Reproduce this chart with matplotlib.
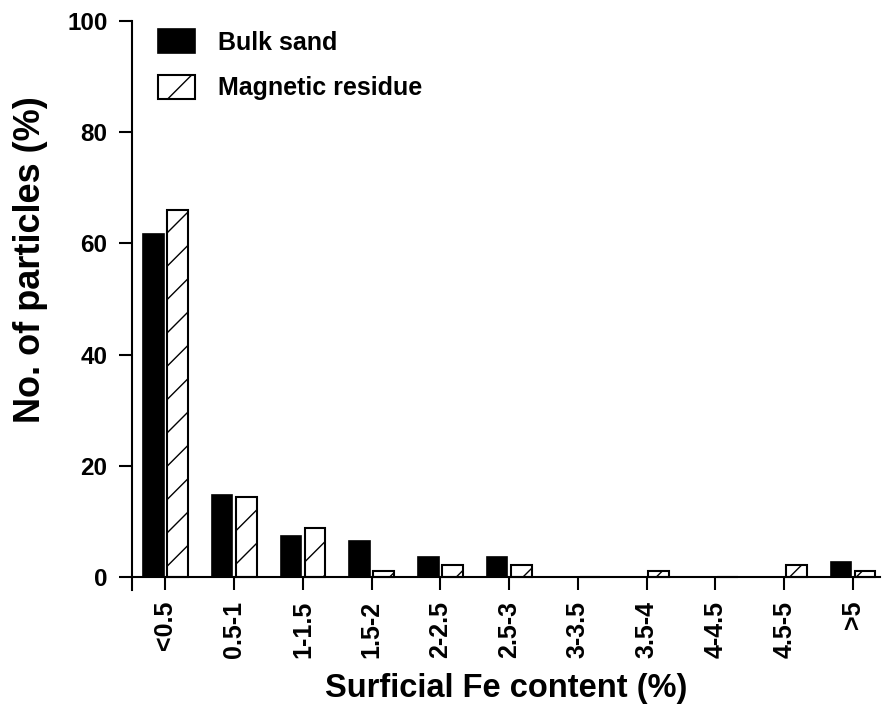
import matplotlib
matplotlib.use("Agg")
import matplotlib.pyplot as plt
import numpy as np

categories = ["<0.5", "0.5-1", "1-1.5", "1.5-2", "2-2.5", "2.5-3",
              "3-3.5", "3.5-4", "4-4.5", "4.5-5", ">5"]
bulk_sand = [61.6, 14.8, 7.4, 6.5, 3.7, 3.7, 0, 0, 0, 0, 2.8]
magnetic_residue = [66.0, 14.4, 8.9, 1.1, 2.2, 2.2, 0, 1.1, 0, 2.2, 1.1]

plt.rcParams["font.family"] = ["Liberation Sans", "DejaVu Sans"]
plt.rcParams["font.weight"] = "bold"
plt.rcParams["hatch.linewidth"] = 1.0

fig = plt.figure(figsize=(8.84, 7.17), dpi=100)
ax = fig.add_axes([0.149, 0.177, 0.847, 0.794])

x = np.arange(len(categories))
w = 0.30
off = 0.175
ax.bar(x - off, bulk_sand, w, color="black", edgecolor="black",
       linewidth=1.2, label="Bulk sand")
ax.bar(x + off, magnetic_residue, w, color="white", edgecolor="black",
       linewidth=1.5, hatch="/", label="Magnetic residue")

ax.set_xlim(-0.49, 10.4)
ax.set_ylim(-2.3, 100)
ax.spines["top"].set_visible(False)
ax.spines["right"].set_visible(False)
ax.spines["bottom"].set_position(("data", 0))
ax.spines["left"].set_linewidth(1.5)
ax.spines["bottom"].set_linewidth(1.5)

ax.set_yticks([0, 20, 40, 60, 80, 100])
ax.set_xticks(x)
ax.set_xticklabels(categories, rotation=90, fontsize=18, fontweight="bold")
ax.tick_params(axis="y", labelsize=17.5, length=9.5, width=1.5, pad=8)
ax.tick_params(axis="x", length=9, width=1.5, pad=8)
for lab in ax.get_yticklabels():
    lab.set_fontweight("bold")

ax.set_ylabel("No. of particles (%)", fontsize=26, fontweight="bold")
ax.yaxis.set_label_coords(-0.112, 0.58)
ax.set_xlabel("Surficial Fe content (%)", fontsize=23.5, fontweight="bold",
              labelpad=11)

ax.legend(loc="upper left", bbox_to_anchor=(0.005, 1.025), frameon=False,
          fontsize=18, handlelength=1.5, handleheight=1.1,
          handletextpad=0.9, labelspacing=0.8)

fig.savefig("out.png", dpi=100)
